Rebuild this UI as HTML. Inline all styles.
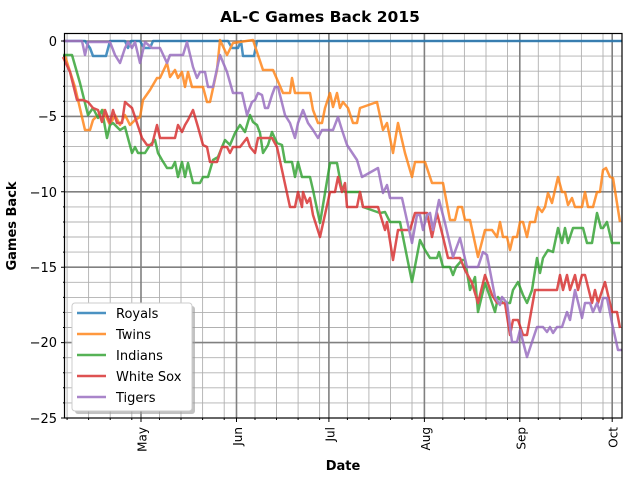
<!DOCTYPE html>
<html><head><meta charset="utf-8"><style>
html,body{margin:0;padding:0;background:#fff;width:640px;height:480px;overflow:hidden}
svg{display:block;font-family:"DejaVu Sans","Liberation Sans",sans-serif}
</style></head><body>
<svg width="640" height="480" viewBox="0 0 640 480" xmlns="http://www.w3.org/2000/svg">
<rect width="640" height="480" fill="#fff"/>
<text x="320" y="22" text-anchor="middle" font-size="15.5" font-weight="bold">AL-C Games Back 2015</text>
<g stroke="#b0b0b0" stroke-width="0.9" fill="none">
<path d="M65 56.1H622M65 71.2H622M65 86.2H622M65 101.3H622M65 131.5H622M65 146.6H622M65 161.6H622M65 176.7H622M65 206.9H622M65 222H622M65 237H622M65 252.1H622M65 282.3H622M65 297.4H622M65 312.4H622M65 327.5H622M65 357.7H622M65 372.8H622M65 387.8H622M65 402.9H622"/>
<path d="M67.1 34V418M88.6 34V418M110.2 34V418M131.8 34V418M159.5 34V418M181 34V418M202.6 34V418M224.2 34V418M255 34V418M276.5 34V418M298.1 34V418M319.6 34V418M347.4 34V418M368.9 34V418M390.5 34V418M412 34V418M442.8 34V418M464.4 34V418M486 34V418M507.5 34V418M538.3 34V418M559.9 34V418M581.4 34V418M603 34V418"/>
</g>
<g stroke="#808080" stroke-width="1.6" fill="none">
<path d="M65 41H622M65 116.4H622M65 191.8H622M65 267.2H622M65 342.6H622"/>
<path d="M141 34V418M236.5 34V418M328.9 34V418M424.4 34V418M519.8 34V418M612.2 34V418"/>
</g>
<g fill="none" stroke-width="2.5" stroke-linejoin="round" opacity="0.8">
<polyline stroke="#1f77b4" points="65,41 85,41 90,48 93,56 106,56 110,41 125,41 128,48 131,41 140,41 144,48 150,48 153,41 228,41 232,48 238,48 241,41 243,56 254,56 257,41 622,41"/>
<polyline stroke="#ff7f0e" points="65,56 75,87 85,130 90,130 93,120 103,110 110,125 115,115 120,125 125,115 130,125 135,120 140,117 143,100 150,90 157,78 160,78 167,63 170,77 175,70 178,78 182,72 185,87 188,72 192,87 203,87 207,102 210,102 217,70 220,40 227,55 233,43 253,40 263,70 273,70 283,93 290,93 292,78 295,93 310,93 313,110 318,123 322,123 325,108 330,93 333,107 337,93 340,108 343,102 348,108 353,123 357,123 360,108 377,102 383,130 387,123 393,153 398,123 405,153 412,177 415,162 425,162 432,183 443,183 450,220 455,220 458,207 462,207 465,220 470,220 478,257 485,230 492,230 497,237 500,222 503,237 507,237 510,250 513,237 517,237 520,222 523,222 527,237 530,222 535,222 538,207 542,212 545,207 548,193 552,203 558,177 562,192 565,192 568,205 572,198 575,207 582,207 585,192 588,207 593,207 597,192 600,192 603,170 606,168 610,177 613,178 620,222"/>
<polyline stroke="#2ca02c" points="63,55 72,55 80,83 88,115 93,108 98,118 102,110 105,127 107,138 110,125 113,123 120,130 125,127 132,153 135,147 138,153 145,153 150,145 155,140 158,153 162,160 167,168 172,168 175,162 178,177 182,162 185,177 188,163 193,183 200,183 203,177 208,177 213,160 218,157 222,147 225,140 230,145 235,133 240,125 245,132 250,115 253,122 257,125 260,133 263,153 268,145 272,132 277,143 282,145 285,162 292,162 295,177 298,162 302,177 310,177 313,190 320,223 330,163 337,163 342,190 345,192 360,192 363,207 380,213 385,212 390,222 400,222 412,282 420,240 425,250 430,258 437,258 439,252 443,267 450,267 453,275 456,267 462,260 465,260 470,290 475,277 478,312 485,283 490,297 495,312 498,297 503,303 510,303 513,290 518,282 523,295 527,303 532,290 537,258 540,273 543,258 548,250 553,252 558,228 562,243 565,228 568,243 573,228 583,228 587,243 592,243 597,213 601,228 603,228 607,222 612,243 620,243"/>
<polyline stroke="#d62728" points="63,57 70,72 77,100 83,100 88,102 93,108 98,110 102,122 105,110 110,123 113,110 117,123 122,123 125,102 132,108 137,123 142,138 147,145 152,145 157,125 160,138 175,138 178,125 182,132 185,125 188,120 193,110 198,127 203,145 207,147 210,162 217,162 222,147 227,147 230,153 233,147 240,147 247,138 250,147 255,153 258,138 272,138 277,147 290,207 295,207 298,192 302,207 303,192 307,203 310,198 313,215 320,237 330,192 335,192 338,177 342,192 345,183 347,207 357,207 360,192 363,207 378,207 385,230 387,222 393,260 398,230 410,230 415,213 427,213 432,237 437,213 443,237 448,258 460,258 465,270 472,283 478,303 485,275 492,295 497,303 505,303 510,335 513,320 518,320 523,335 527,335 535,290 557,290 560,275 563,290 567,275 570,290 575,275 578,290 582,275 585,275 592,303 595,290 598,303 605,282 612,312 617,312 620,328"/>
<polyline stroke="#9467bd" points="63,41 82,41 85,55 88,42 110,42 115,55 120,63 125,48 128,42 132,48 135,42 140,63 145,42 152,48 160,48 167,63 170,55 183,55 187,42 193,67 197,78 200,72 205,72 208,87 213,87 220,55 227,72 233,93 242,93 247,115 252,102 255,100 258,93 262,95 265,108 268,108 272,95 275,87 278,87 285,115 290,123 295,138 298,123 303,110 308,123 313,130 318,138 322,130 333,130 338,117 342,130 347,145 357,160 362,177 378,168 383,193 387,185 390,198 402,198 412,243 417,215 420,215 423,230 427,215 430,213 433,230 439,200 445,223 453,257 460,238 467,267 478,267 483,252 487,255 495,297 500,305 502,297 507,303 512,342 517,342 520,330 527,357 532,342 537,327 543,327 547,332 550,327 553,333 557,327 562,327 567,312 570,320 575,290 582,318 585,303 590,303 593,312 597,303 600,312 603,298 607,298 612,323 618,350 622,350"/>
</g>
<rect x="64.5" y="33.5" width="557.5" height="384.5" fill="none" stroke="#000" stroke-width="1.2"/>
<g stroke="#000" stroke-width="1">
<path d="M61 41H65M61 116.4H65M61 191.8H65M61 267.2H65M61 342.6H65M61 418H65"/>
<path d="M63 56.1H65M63 71.2H65M63 86.2H65M63 101.3H65M63 131.5H65M63 146.6H65M63 161.6H65M63 176.7H65M63 206.9H65M63 222H65M63 237H65M63 252.1H65M63 282.3H65M63 297.4H65M63 312.4H65M63 327.5H65M63 357.7H65M63 372.8H65M63 387.8H65M63 402.9H65"/>
<path d="M141 418V422M236.5 418V422M328.9 418V422M424.4 418V422M519.8 418V422M612.2 418V422"/>
<path d="M67.1 418V420M88.6 418V420M110.2 418V420M131.8 418V420M159.5 418V420M181 418V420M202.6 418V420M224.2 418V420M255 418V420M276.5 418V420M298.1 418V420M319.6 418V420M347.4 418V420M368.9 418V420M390.5 418V420M412 418V420M442.8 418V420M464.4 418V420M486 418V420M507.5 418V420M538.3 418V420M559.9 418V420M581.4 418V420M603 418V420"/>
</g>
<g font-size="13" text-anchor="end">
<text x="57" y="46">0</text>
<text x="57" y="121">−5</text>
<text x="57" y="197">−10</text>
<text x="57" y="272">−15</text>
<text x="57" y="347">−20</text>
<text x="57" y="423">−25</text>
</g>
<g font-size="12" text-anchor="end">
<text transform="translate(146.5,427) rotate(-90)">May</text>
<text transform="translate(242,427) rotate(-90)">Jun</text>
<text transform="translate(334.4,427) rotate(-90)">Jul</text>
<text transform="translate(429.9,427) rotate(-90)">Aug</text>
<text transform="translate(525.3,427) rotate(-90)">Sep</text>
<text transform="translate(617.7,427) rotate(-90)">Oct</text>
</g>
<text x="343" y="470" text-anchor="middle" font-size="13" font-weight="bold">Date</text>
<text transform="translate(16,226) rotate(-90)" text-anchor="middle" font-size="13" font-weight="bold">Games Back</text>
<rect x="75" y="306" width="120" height="108" rx="3" fill="#999" opacity="0.6"/>
<rect x="72" y="303" width="120" height="108" rx="3" fill="#fff" stroke="#ccc" stroke-width="1"/>
<g stroke-width="2.5" opacity="0.8">
<path d="M77 313H106" stroke="#1f77b4"/>
<path d="M77 334H106" stroke="#ff7f0e"/>
<path d="M77 355H106" stroke="#2ca02c"/>
<path d="M77 376H106" stroke="#d62728"/>
<path d="M77 397H106" stroke="#9467bd"/>
</g>
<g font-size="13">
<text x="116" y="318">Royals</text>
<text x="116" y="339">Twins</text>
<text x="116" y="360">Indians</text>
<text x="116" y="381">White Sox</text>
<text x="116" y="402">Tigers</text>
</g>
</svg>
</body></html>
